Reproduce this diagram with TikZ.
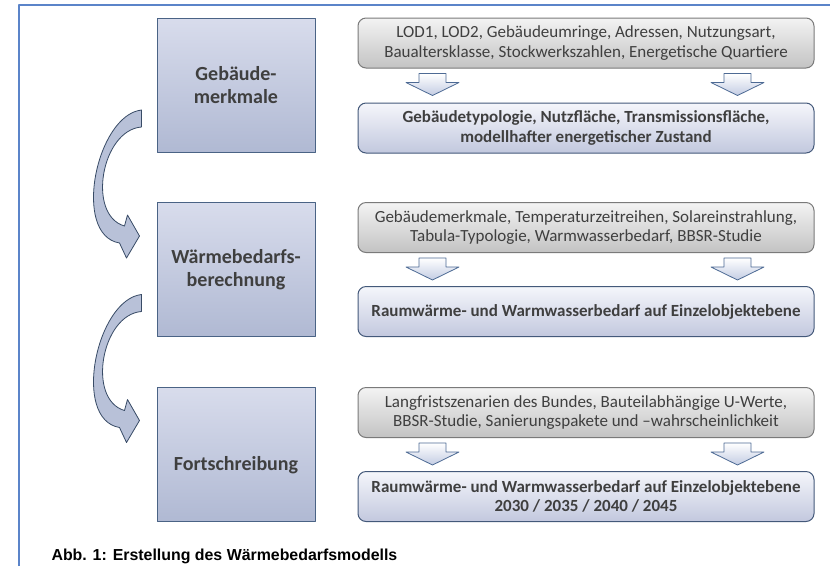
\documentclass[tikz,border=0pt]{standalone}
\usepackage{fontspec}
\setmainfont{Carlito}
\newfontfamily\captionfont{Liberation Sans}
\usetikzlibrary{positioning,calc}

\definecolor{framecol}{HTML}{5B84C9}
\definecolor{textgray}{HTML}{3F3F3F}
\definecolor{stageline}{HTML}{4A6385}
\definecolor{stagetop}{HTML}{D8DCEC}
\definecolor{stagebot}{HTML}{B0B9D3}
\definecolor{inline}{HTML}{7A7A7A}
\definecolor{intop}{HTML}{F3F3F3}
\definecolor{inbot}{HTML}{C3C3C3}
\definecolor{resline}{HTML}{44597A}
\definecolor{restop}{HTML}{F5F6FB}
\definecolor{resbot}{HTML}{C2C8DE}
\definecolor{arrline}{HTML}{4D6A94}
\definecolor{arrbot}{HTML}{C3CCE3}
\definecolor{bendfill}{HTML}{B8C1D8}
\definecolor{bendline}{HTML}{384B66}

\tikzset{
  stage/.style={draw=stageline, line width=1pt, top color=stagetop, bottom color=stagebot,
    minimum width=158pt, minimum height=134pt, align=center, text=textgray,
    font=\fontsize{20}{23}\selectfont\bfseries},
  inbox/.style={draw=inline, line width=1pt, rounded corners=8pt, top color=intop, bottom color=inbot,
    minimum width=456pt, minimum height=50pt, align=center, text=textgray,
    font=\fontsize{17}{19.5}\selectfont},
  resbox/.style={inbox, draw=resline, top color=restop, bottom color=resbot,
    font=\fontsize{17}{19.5}\selectfont\bfseries},
  blockarr/.style={draw=arrline, line width=0.8pt, top color=white, bottom color=arrbot},
  bendarr/.style={draw=bendline, line width=0.8pt, fill=bendfill}
}

\begin{document}
\begin{tikzpicture}[x=1pt, y=-1pt, line join=round]
\useasboundingbox (0,0) rectangle (830,566);
% frame
\draw[framecol, line width=2pt] (18.5,566) -- (18.5,4.5) -- (830,4.5);

% left column
\node[stage] (st1) at (236,85) {Gebäude-\\merkmale};
\node[stage] (st2) at (236,269.5) {Wärmebedarfs-\\berechnung};
\node[stage, text height=37pt, text depth=5pt] (st3) at (236,454) {Fortschreibung};

% right column
\node[inbox] (in1) at (586,43) {LOD1, LOD2, Gebäudeumringe, Adressen, Nutzungsart,\\Baualtersklasse, Stockwerkszahlen, Energetische Quartiere};
\node[resbox, below=34pt of in1] (res1) {Gebäudetypologie, Nutzfläche, Transmissionsfläche,\\modellhafter energetischer Zustand};
\node[inbox] (in2) at (586,227.5) {Gebäudemerkmale, Temperaturzeitreihen, Solareinstrahlung,\\Tabula-Typologie, Warmwasserbedarf, BBSR-Studie};
\node[resbox, below=33pt of in2] (res2) {Raumwärme- und Warmwasserbedarf auf Einzelobjektebene};
\node[inbox] (in3) at (586,412.5) {Langfristszenarien des Bundes, Bauteilabhängige U-Werte,\\BBSR-Studie, Sanierungspakete und –wahrscheinlichkeit};
\node[resbox, below=33pt of in3] (res3) {Raumwärme- und Warmwasserbedarf auf Einzelobjektebene\\2030 / 2035 / 2040 / 2045};

% small arrows
\foreach \r in {1,2,3}{
  \draw[blockarr, shift={($(in\r.south west)+(75,5)$)}]
    (-13.5,0) -- (13.5,0) -- (13.5,9) -- (26.5,9) -- (0,22) -- (-26.5,9) -- (-13.5,9) -- cycle;
  \draw[blockarr, shift={($(in\r.south east)+(-77,5)$)}]
    (-13.5,0) -- (13.5,0) -- (13.5,9) -- (26.5,9) -- (0,22) -- (-26.5,9) -- (-13.5,9) -- cycle;
}

% bent arrows
\foreach \s in {st1,st2}{
  \draw[bendarr, shift={(\s.west)}]
    (-15,25) .. controls (-60,30) and (-85,150) .. (-37,158) -- (-30,173) -- (-17,151)
    -- (-29,130) -- (-32,141) .. controls (-70,130) and (-55,45) .. (-15,42) -- cycle;
}

\node[anchor=west, font=\captionfont\bfseries\fontsize{15.9}{18}\selectfont] (cap) at (48,556)
  {Abb. 1: Erstellung des Wärmebedarfsmodells};
\end{tikzpicture}
\end{document}
